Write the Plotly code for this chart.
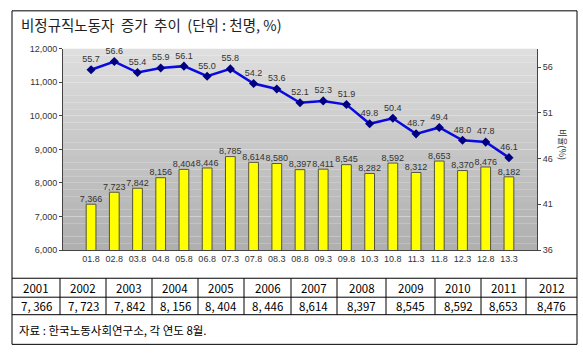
import plotly.graph_objects as go

categories = ["01.8", "02.8", "03.8", "04.8", "05.8", "06.8", "07.3", "07.8", "08.3", "08.8",
              "09.3", "09.8", "10.3", "10.8", "11.3", "11.8", "12.3", "12.8", "13.3"]
workers = [7366, 7723, 7842, 8156, 8404, 8446, 8785, 8614, 8580, 8397,
           8411, 8545, 8282, 8592, 8312, 8653, 8370, 8476, 8182]
ratio = [55.7, 56.6, 55.4, 55.9, 56.1, 55.0, 55.8, 54.2, 53.6, 52.1,
         52.3, 51.9, 49.8, 50.4, 48.7, 49.4, 48.0, 47.8, 46.1]

table_years = ["2001", "2002", "2003", "2004", "2005", "2006",
               "2007", "2008", "2009", "2010", "2011", "2012"]
table_values = ["7, 366", "7, 723", "7, 842", "8, 156", "8, 404", "8, 446",
                "8,614", "8,397", "8,545", "8,592", "8,653", "8,476"]

title_text = "비정규직노동자&nbsp; 증가&nbsp; 추이&nbsp; (단위 : 천명, %)"
source_text = "자료 : 한국노동사회연구소, 각 연도 8월."
right_title = "비율(%)"

W, H = 583, 362
def px(x): return x / W
def py(y): return 1 - y / H

LAT = "Liberation Sans, Arial, sans-serif"
KR = "Noto Sans CJK KR, sans-serif"

fig = go.Figure()
fig.add_trace(go.Bar(
    x=categories, y=workers, yaxis="y",
    marker=dict(color="#FFFF00", line=dict(color="#55553a", width=1)),
    showlegend=False, hoverinfo="x+y",
))
fig.add_trace(go.Scatter(
    x=categories, y=workers, yaxis="y", mode="text",
    text=[f"{v:,}" for v in workers], textposition="top center",
    textfont=dict(family=LAT, size=9, color="#333333"),
    cliponaxis=False, showlegend=False, hoverinfo="skip",
))
fig.add_trace(go.Scatter(
    x=categories, y=ratio, yaxis="y2", mode="lines+markers+text",
    line=dict(color="#0a0ae0", width=2.5),
    marker=dict(symbol="diamond", size=7, color="#000080"),
    text=[f"{v:.1f}" for v in ratio], textposition="top center",
    textfont=dict(family=LAT, size=9, color="#333333"),
    cliponaxis=False, showlegend=False,
))

shapes = []
n = 30
top_c = (222, 222, 222)
bot_c = (176, 176, 176)
for i in range(n):
    t = i / (n - 1)
    c = tuple(int(top_c[k] + (bot_c[k] - top_c[k]) * t) for k in range(3))
    shapes.append(dict(type="rect", xref="x domain", yref="y domain",
                       x0=0, x1=1, y0=1 - (i + 1) / n, y1=1 - i / n,
                       fillcolor="rgb(%d,%d,%d)" % c, line=dict(width=0), layer="below"))
shapes.append(dict(type="rect", xref="paper", yref="paper", x0=px(12), x1=px(577),
                   y0=py(349), y1=py(6), line=dict(color="black", width=1)))
for yy in [281, 300.5, 318.5]:
    shapes.append(dict(type="line", xref="paper", yref="paper", x0=px(12), x1=px(577),
                       y0=py(yy), y1=py(yy), line=dict(color="black", width=1)))
dividers = [12, 60, 106, 152, 198, 244, 291, 337, 386, 435, 481, 526, 577]
for xx in dividers[1:-1]:
    shapes.append(dict(type="line", xref="paper", yref="paper", x0=px(xx), x1=px(xx),
                       y0=py(281), y1=py(318.5), line=dict(color="black", width=1)))

annotations = [
    dict(text=title_text, xref="paper", yref="paper", x=px(19), y=py(20), xanchor="left",
         yanchor="middle", showarrow=False, font=dict(family=KR, size=14.5, color="#222222")),
    dict(text=right_title, xref="paper", yref="paper", x=px(563), y=py(143), textangle=90,
         xanchor="center", yanchor="middle", showarrow=False,
         font=dict(family=KR, size=9, color="#333333")),
    dict(text=source_text, xref="paper", yref="paper", x=px(17), y=py(334), xanchor="left",
         yanchor="middle", showarrow=False, font=dict(family=KR, size=11.5, color="black")),
]
for i, (yr, val) in enumerate(zip(table_years, table_values)):
    cx = (dividers[i] + dividers[i + 1]) / 2
    annotations.append(dict(text=yr, xref="paper", yref="paper", x=px(cx), y=py(291),
                            xanchor="center", yanchor="middle", showarrow=False,
                            font=dict(family=KR, size=11.5, color="black")))
    annotations.append(dict(text=val, xref="paper", yref="paper", x=px(cx), y=py(310),
                            xanchor="center", yanchor="middle", showarrow=False,
                            font=dict(family=KR, size=11.5, color="black")))

fig.update_layout(
    width=W, height=H, margin=dict(l=0, r=0, t=0, b=0),
    paper_bgcolor="white", plot_bgcolor="rgba(0,0,0,0)",
    bargap=0.58,
    xaxis=dict(domain=[px(63), px(537)], showline=True, linecolor="#444444", linewidth=1,
               tickfont=dict(family=LAT, size=9, color="#333333"), ticks="", showgrid=False),
    yaxis=dict(domain=[py(252), py(45)], range=[6000, 12000],
               tickvals=[6000, 7000, 8000, 9000, 10000, 11000, 12000],
               tickformat=",", showline=True, linecolor="#444444", linewidth=1,
               ticks="outside", ticklen=3, tickcolor="#444444",
               tickfont=dict(family=LAT, size=9, color="#333333"),
               showgrid=True, gridcolor="rgba(235,235,235,0.25)", gridwidth=1, zeroline=False),
    yaxis2=dict(overlaying="y", side="right", range=[36, 58], tickvals=[36, 41, 46, 51, 56],
                showline=True, linecolor="#444444", linewidth=1,
                ticks="outside", ticklen=3, tickcolor="#444444",
                tickfont=dict(family=LAT, size=9, color="#333333"),
                showgrid=False, zeroline=False),
    shapes=shapes, annotations=annotations,
)

fig.write_html("out.html", config={"displayModeBar": False},
               post_script="document.body.style.margin='0';document.body.style.overflow='hidden';")
